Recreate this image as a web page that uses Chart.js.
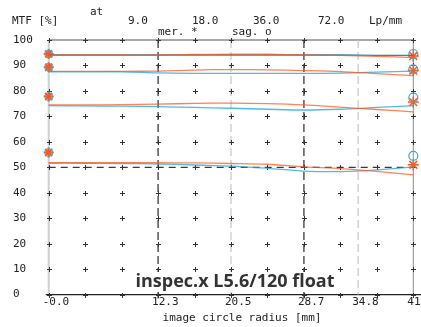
<!DOCTYPE html>
<html>
<head>
<meta charset="utf-8">
<script src="https://cdn.jsdelivr.net/npm/chart.js@4.4.1/dist/chart.umd.min.js"></script>
<style>
  html, body { margin: 0; padding: 0; background: #fff; }
  canvas { display: block; }
</style>
</head>
<body>
<canvas id="mtfChart" width="421" height="327"></canvas>
<script>
// image circle radius [mm] where the curves are sampled
const radius = [0, 4.1, 8.2, 12.3, 16.4, 20.5, 24.6, 28.7, 32.8, 36.9, 41.0];

// meridional (orange) and sagittal (blue) MTF per spatial frequency
const mer9  = [94.1, 94.1, 94.1, 94.1, 94.3, 94.4, 94.4, 94.1, 94.0, 93.6, 93.1];
const sag9  = [94.1, 94.1, 94.1, 94.1, 94.1, 94.1, 94.1, 94.1, 94.1, 94.0, 94.0];
const mer18 = [87.7, 87.7, 87.7, 87.8, 88.2, 88.4, 88.3, 88.0, 87.6, 86.8, 86.0];
const sag18 = [87.5, 87.5, 87.5, 87.1, 86.9, 86.9, 86.9, 86.9, 87.0, 87.4, 87.8];
const mer36 = [74.5, 74.5, 74.6, 74.8, 75.1, 75.2, 75.0, 74.5, 73.6, 72.7, 71.8];
const sag36 = [74.2, 74.1, 74.0, 73.8, 73.5, 73.2, 72.8, 72.5, 72.8, 73.5, 74.2];
const mer72 = [51.8, 51.8, 51.8, 51.8, 51.7, 51.5, 51.2, 50.2, 49.5, 48.4, 47.0];
const sag72 = [51.6, 51.6, 51.5, 51.3, 50.9, 50.5, 49.6, 48.5, 48.3, 49.0, 50.2];

// end markers (centre and corner values)
const centreMarks  = [94.5, 89.3, 77.8, 55.8];
const cornerSag    = [94.5, 88.5, 77.4, 54.5];
const cornerMer    = [93.7, 88.0, 75.6, 51.0];

// axes
const xTickVals   = [0, 12.3, 20.5, 28.7, 34.8, 41.0];
const xTickLabels = ['-0.0', '12.3', '20.5', '28.7', '34.8', '41.0'];
const gridX = [0, 4.1, 8.2, 12.3, 16.4, 20.5, 24.6, 28.7, 32.8, 36.9, 41.0];
const gridY = [0, 10, 20, 30, 40, 50, 60, 70, 80, 90, 100];
const darkDashX  = [12.3, 28.7];
const lightDashX = [20.5, 34.8];
const dashY = 50;
const freqLabels = ['9.0', '18.0', '36.0', '72.0', 'Lp/mm'];

const MER = 'rgba(255,88,30,0.75)';
const SAG = 'rgba(35,170,220,0.8)';
const SAG_DARK = 'rgba(20,135,175,0.95)';
const MONO = '"DejaVu Sans Mono", "Liberation Mono", monospace';

const pts = vals => vals.map((v, i) => ({ x: radius[i], y: v }));
const at  = (xv, vals) => vals.map(v => ({ x: xv, y: v }));

function curve(label, vals, color) {
    return { label, data: pts(vals), borderColor: color, borderWidth: 1.3,
             pointRadius: 0, tension: 0.3, fill: false, clip: false };
}
function marks(label, data, style, color, r, bw) {
    return { label, data, showLine: false, pointStyle: style, pointRadius: r,
             pointBorderColor: color, pointBackgroundColor: 'rgba(0,0,0,0)',
             pointBorderWidth: bw, clip: false };
}

function seg(ctx, x1, y1, x2, y2) {
    ctx.beginPath(); ctx.moveTo(x1, y1); ctx.lineTo(x2, y2); ctx.stroke();
}

const mtfDecor = {
    id: 'mtfDecor',
    beforeDatasetsDraw(chart) {
        const { ctx, chartArea: a, scales: { x, y } } = chart;
        ctx.save();

        ctx.strokeStyle = '#cfcfcf'; ctx.lineWidth = 2;
        seg(ctx, a.left, a.top, a.left, a.bottom + 2);

        ctx.strokeStyle = '#8c8c8c'; ctx.lineWidth = 1;
        seg(ctx, a.right, a.top, a.right, a.bottom);

        ctx.strokeStyle = '#555'; ctx.lineWidth = 1.2;
        seg(ctx, a.left, a.top, a.right, a.top);

        ctx.strokeStyle = '#222'; ctx.lineWidth = 1.4;
        seg(ctx, a.left - 3, a.bottom, chart.width, a.bottom);

        ctx.setLineDash([8, 4]);
        ctx.strokeStyle = '#ccc'; ctx.lineWidth = 1.3;
        lightDashX.forEach(v => seg(ctx, x.getPixelForValue(v), a.top, x.getPixelForValue(v), a.bottom));
        ctx.strokeStyle = '#3a3a3a'; ctx.lineWidth = 1.3;
        darkDashX.forEach(v => seg(ctx, x.getPixelForValue(v), a.top, x.getPixelForValue(v), a.bottom + 4));
        ctx.setLineDash([7, 5]);
        seg(ctx, a.left, y.getPixelForValue(dashY), a.right, y.getPixelForValue(dashY));
        ctx.setLineDash([]);

        // plus marks on the grid
        ctx.strokeStyle = '#333'; ctx.lineWidth = 1;
        gridX.forEach(gx => gridY.forEach(gy => {
            const px = Math.round(x.getPixelForValue(gx)) + 0.5;
            const py = Math.round(y.getPixelForValue(gy)) + 0.5;
            seg(ctx, px - 2.5, py, px + 2.5, py);
            seg(ctx, px, py - 2.5, px, py + 2.5);
        }));
        ctx.restore();
    },
    afterDraw(chart) {
        const { ctx } = chart;
        ctx.save();
        ctx.fillStyle = '#222';
        ctx.font = '11px ' + MONO;
        ctx.textBaseline = 'middle';
        ctx.textAlign = 'left';
        ctx.fillText('MTF [%]', 12, 21);
        ctx.fillText('at', 90, 12);
        const fx = [128, 192, 253, 318, 369];
        freqLabels.forEach((t, i) => ctx.fillText(t, fx[i], 21));
        ctx.fillText('mer. *', 158, 32);
        ctx.fillText('sag. o', 232, 32);

        ctx.textAlign = 'center';
        ctx.fillText('image circle radius [mm]', 242, 318);

        // lens name
        ctx.font = 'bold 18px "Open Sans", "Noto Sans", sans-serif';
        const title = 'inspec.x L5.6/120 float';
        const w = ctx.measureText(title).width;
        ctx.fillStyle = '#fff';
        ctx.fillRect(235 - w / 2 - 2, 272, w + 4, 20);
        ctx.fillStyle = '#333';
        ctx.fillText(title, 235, 282);
        ctx.restore();
    }
};

new Chart(document.getElementById('mtfChart'), {
    type: 'line',
    data: {
        datasets: [
            curve('mer 72', mer72, MER), curve('sag 72', sag72, SAG),
            curve('mer 36', mer36, MER), curve('sag 36', sag36, SAG),
            curve('mer 18', mer18, MER), curve('sag 18', sag18, SAG),
            curve('mer 9',  mer9,  MER), curve('sag 9',  sag9,  SAG_DARK),
            marks('centre sag', at(0, centreMarks), 'circle', '#3aa8d8', 4, 1),
            marks('centre mer', at(0, centreMarks), 'star', '#ff5a1e', 5, 2),
            marks('corner sag', at(41, cornerSag), 'circle', '#3aa8d8', 4.5, 1.2),
            marks('corner mer', at(41, cornerMer), 'star', '#ff5a1e', 5.5, 1.5)
        ]
    },
    options: {
        responsive: false,
        devicePixelRatio: 1,
        animation: false,
        events: [],
        layout: { padding: { left: 13, right: 7.7, top: 40, bottom: 0 } },
        plugins: { legend: { display: false }, tooltip: { enabled: false } },
        scales: {
            x: {
                type: 'linear', min: 0, max: 41,
                grid: { display: false, drawTicks: false },
                border: { display: false },
                afterBuildTicks: s => { s.ticks = xTickVals.map(v => ({ value: v })); },
                afterFit: s => { s.height = 32.4; s.paddingLeft = 0; s.paddingRight = 0; },
                ticks: {
                    autoSkip: false, maxRotation: 0, align: 'start', labelOffset: -6, padding: 1,
                    color: '#222', font: { family: MONO, size: 11 },
                    callback: (v, i) => xTickLabels[i]
                }
            },
            y: {
                min: 0, max: 100,
                grid: { display: false, drawTicks: false },
                border: { display: false },
                afterBuildTicks: s => { s.ticks = gridY.map(v => ({ value: v })); },
                afterFit: s => { s.width = 35.7; s.paddingTop = 0; s.paddingBottom = 0; },
                ticks: {
                    crossAlign: 'far', color: '#222', font: { family: MONO, size: 11 }
                }
            }
        }
    },
    plugins: [mtfDecor]
});
</script>
</body>
</html>
